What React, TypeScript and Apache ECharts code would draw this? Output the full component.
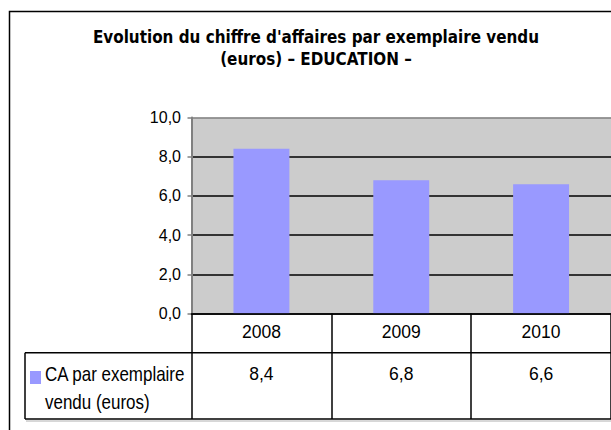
import React, { useEffect, useRef } from 'react';
import * as echarts from 'echarts';

const categories = ['2008', '2009', '2010'];
const values = [8.4, 6.8, 6.6];
const seriesName = 'CA par exemplaire vendu (euros)';
const legendLines = ['CA par exemplaire', 'vendu (euros)'];
const titleLines = ["Evolution du chiffre d'affaires par exemplaire vendu", '(euros) \u2013 EDUCATION \u2013'];
const yMin = 0;
const yMax = 10;
const yInterval = 2;

const fmt = (v: number) => v.toFixed(1).replace('.', ',');

const SANS = "'Liberation Sans', Arial, sans-serif";
const TITLE_FONT = "'DejaVu Sans', Verdana, sans-serif";

export default function App() {
  const ref = useRef<HTMLDivElement>(null);
  useEffect(() => {
    if (!ref.current) return;
    const chart = echarts.init(ref.current, null, { renderer: 'svg' });
    const gridLeft = 191.5;
    const gridTop = 117.5;
    const gridWidth = 421;
    const gridHeight = 196;
    const axisY = gridTop + gridHeight;
    const row1Bottom = 352.7;
    const tableBottom = 419;
    const option: any = {
      animation: false,
      backgroundColor: '#ffffff',
      grid: {
        left: gridLeft,
        top: gridTop,
        width: gridWidth,
        height: gridHeight,
        show: true,
        backgroundColor: '#cccccc',
        borderWidth: 0,
        containLabel: false,
      },
      xAxis: [
        {
          type: 'category',
          data: categories,
          position: 'bottom',
          axisLine: { show: true, lineStyle: { color: '#000', width: 1.5 } },
          axisTick: { show: true, interval: 0, length: tableBottom - axisY, lineStyle: { color: '#000', width: 1.5 } },
          axisLabel: { margin: 9.5, fontFamily: SANS, fontSize: 17.5, color: '#000' },
          splitLine: { show: false },
          z: 5,
        },
        {
          type: 'category',
          data: values.map(fmt),
          position: 'bottom',
          axisLine: { show: false },
          axisTick: { show: false },
          axisLabel: { margin: 51.5, fontFamily: SANS, fontSize: 17.5, color: '#000' },
          splitLine: { show: false },
        },
      ],
      yAxis: {
        type: 'value',
        min: yMin,
        max: yMax,
        interval: yInterval,
        axisLine: { show: true, lineStyle: { color: '#808080', width: 2 } },
        axisTick: { show: true, length: 4, lineStyle: { color: '#808080', width: 1.5 } },
        axisLabel: { margin: 10.5, fontFamily: SANS, fontSize: 16, color: '#000', formatter: (v: number) => fmt(v) },
        splitLine: {
          show: true,
          lineStyle: { color: ['#000', '#000', '#000', '#000', '#000', '#808080'], width: 1.6 },
        },
      },
      series: [
        {
          name: seriesName,
          type: 'bar',
          data: values,
          barWidth: '40%',
          itemStyle: { color: '#9999ff' },
          xAxisIndex: 0,
          yAxisIndex: 0,
          z: 2,
        },
      ],
      graphic: [
        {
          type: 'rect',
          shape: { x: 9.5, y: 11.5, width: 800, height: 600 },
          style: { fill: 'none', stroke: '#000', lineWidth: 1.5 },
          silent: true,
          z: 10,
        },
        {
          type: 'text',
          x: 316,
          y: 48,
          scaleX: 0.894,
          style: {
            text: titleLines.join('\n'),
            font: `bold 17px ${TITLE_FONT}`,
            fill: '#000',
            align: 'center',
            verticalAlign: 'middle',
            lineHeight: 22.5,
          },
        },
        {
          type: 'line',
          shape: { x1: 25, y1: row1Bottom, x2: 620, y2: row1Bottom },
          style: { stroke: '#000', lineWidth: 1.5 },
          z: 10,
        },
        {
          type: 'line',
          shape: { x1: 25, y1: tableBottom, x2: 620, y2: tableBottom },
          style: { stroke: '#000', lineWidth: 1.5 },
          z: 10,
        },
        {
          type: 'line',
          shape: { x1: 25, y1: row1Bottom, x2: 25, y2: tableBottom },
          style: { stroke: '#000', lineWidth: 1.5 },
          z: 10,
        },
        {
          type: 'line',
          shape: { x1: 26, y1: tableBottom + 2, x2: 620, y2: tableBottom + 2 },
          style: { stroke: '#b0b0b0', lineWidth: 1 },
          z: 10,
        },
        {
          type: 'rect',
          shape: { x: 30, y: 371, width: 11, height: 13 },
          style: { fill: '#9999ff' },
          z: 10,
        },
        {
          type: 'text',
          x: 45,
          y: 360.2,
          scaleX: 0.848,
          style: {
            text: legendLines.join('\n'),
            font: `20px ${SANS}`,
            fill: '#000',
            align: 'left',
            verticalAlign: 'top',
            lineHeight: 28,
          },
          z: 10,
        },
      ],
    };
    chart.setOption(option);
    return () => chart.dispose();
  }, []);
  return (
    <div
      ref={ref}
      style={{ position: 'fixed', left: 0, top: 0, width: 611, height: 430 }}
    />
  );
}
